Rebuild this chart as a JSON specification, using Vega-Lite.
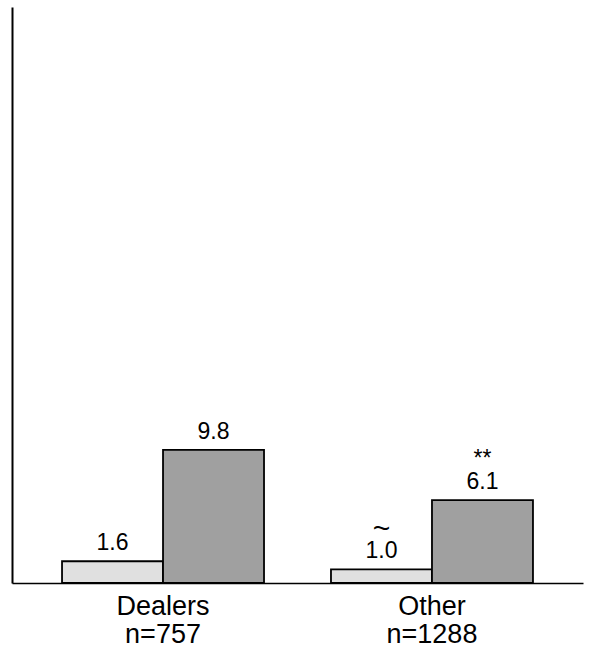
{
  "$schema": "https://vega.github.io/schema/vega-lite/v6.json",
  "width": 571,
  "height": 576,
  "autosize": {"type": "none"},
  "padding": {"left": 12, "top": 7, "right": 8, "bottom": 72},
  "background": "white",
  "config": {
    "view": {"stroke": null},
    "font": "Liberation Sans"
  },
  "data": {
    "values": [
      {"group": "Dealers", "series": "Earlier", "value": 1.6, "sig": ""},
      {"group": "Dealers", "series": "Later", "value": 9.8, "sig": ""},
      {"group": "Other", "series": "Earlier", "value": 1.0, "sig": "~"},
      {"group": "Other", "series": "Later", "value": 6.1, "sig": "**"}
    ]
  },
  "encoding": {
    "x": {
      "field": "group",
      "type": "nominal",
      "sort": ["Dealers", "Other"],
      "scale": {"paddingInner": 0.249, "paddingOuter": 0.186},
      "axis": {
        "title": null,
        "labelAngle": 0,
        "ticks": false,
        "domainColor": "black",
        "domainWidth": 1.5,
        "labelFontSize": 27,
        "labelColor": "black",
        "labelPadding": 10,
        "labelLineHeight": 28,
        "labelExpr": "datum.value == 'Dealers' ? ['Dealers', 'n=757'] : ['Other', 'n=1288']"
      }
    },
    "xOffset": {
      "field": "series",
      "type": "nominal",
      "sort": ["Earlier", "Later"],
      "scale": {"paddingInner": 0, "paddingOuter": 0}
    },
    "y": {
      "field": "value",
      "type": "quantitative",
      "scale": {"domain": [0, 42.4], "nice": false, "zero": true},
      "axis": {
        "title": null,
        "labels": false,
        "ticks": false,
        "grid": false,
        "domainColor": "black",
        "domainWidth": 2
      }
    }
  },
  "layer": [
    {
      "mark": {"type": "bar", "stroke": "black", "strokeWidth": 1.8},
      "encoding": {
        "color": {
          "field": "series",
          "type": "nominal",
          "scale": {"domain": ["Earlier", "Later"], "range": ["#e0e0e0", "#a0a0a0"]},
          "legend": null
        }
      }
    },
    {
      "mark": {"type": "text", "dy": -11, "baseline": "alphabetic", "fontSize": 23, "color": "black"},
      "encoding": {
        "text": {"field": "value", "type": "quantitative", "format": ".1f"}
      }
    },
    {
      "transform": [{"filter": "datum.sig == '**'"}],
      "mark": {"type": "text", "dy": -34, "baseline": "alphabetic", "fontSize": 23, "color": "black"},
      "encoding": {
        "text": {"field": "sig", "type": "nominal"}
      }
    },
    {
      "transform": [{"filter": "datum.sig == '~'"}],
      "mark": {"type": "text", "dy": -31, "baseline": "alphabetic", "fontSize": 30, "color": "black"},
      "encoding": {
        "text": {"field": "sig", "type": "nominal"}
      }
    }
  ]
}
